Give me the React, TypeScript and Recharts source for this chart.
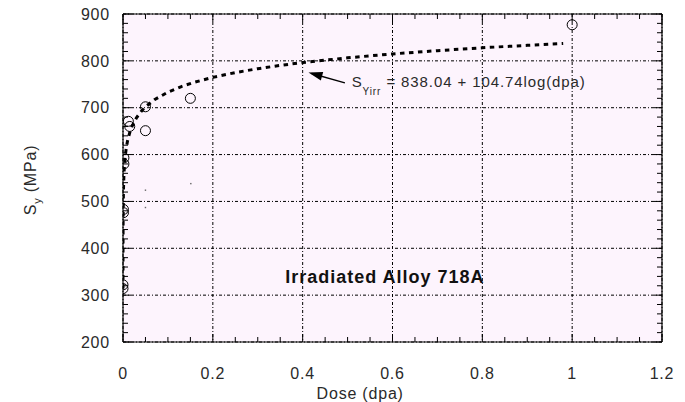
import React from 'react';
import {
  ComposedChart,
  Line,
  Scatter,
  XAxis,
  YAxis,
  CartesianGrid,
  ReferenceLine,
  ReferenceDot,
  Label,
} from 'recharts';

// ---- axis ticks ----
const X_TICKS = [0, 0.05, 0.1, 0.15, 0.2, 0.25, 0.3, 0.35, 0.4, 0.45, 0.5, 0.55, 0.6, 0.65, 0.7, 0.75, 0.8, 0.85, 0.9, 0.95, 1, 1.05, 1.1, 1.15, 1.2];
const X_MAJOR = [0, 0.2, 0.4, 0.6, 0.8, 1, 1.2];
const Y_TICKS = [200, 220, 240, 260, 280, 300, 320, 340, 360, 380, 400, 420, 440, 460, 480, 500, 520, 540, 560, 580, 600, 620, 640, 660, 680, 700, 720, 740, 760, 780, 800, 820, 840, 860, 880, 900];
const Y_MAJOR = [200, 300, 400, 500, 600, 700, 800, 900];

// ---- fit curve S_Yirr = 838.04 + 104.74 log(dpa) ----
const FIT_DOSE = [0.00001, 0.00003, 0.0001, 0.0003, 0.001, 0.002, 0.003, 0.005, 0.0075, 0.01, 0.015, 0.02, 0.03, 0.04, 0.05, 0.07, 0.1, 0.13, 0.16, 0.2, 0.25, 0.3, 0.35, 0.4, 0.5, 0.6, 0.7, 0.8, 0.9, 0.98];
const FIT_SY = [314.3, 364.3, 419.1, 469.0, 523.8, 555.3, 573.8, 597.0, 615.5, 628.6, 647.0, 660.1, 678.5, 691.6, 701.8, 717.1, 733.3, 745.2, 754.7, 764.8, 775.0, 783.3, 790.3, 796.4, 806.5, 814.8, 821.8, 827.9, 833.2, 837.1];

// ---- measured points ----
const MEAS_DOSE = [0, 0, 0.001, 0.001, 0.002, 0.002, 0.012, 0.015, 0.05, 0.05, 0.15, 1.0];
const MEAS_SY = [322, 314, 483, 476, 593, 580, 671, 660, 702, 651, 720, 877];

// ---- small stray specks in the plot ----
const SPECK_DOSE = [0.05, 0.05, 0.151];
const SPECK_SY = [524, 487, 538];

const fitData = FIT_DOSE.map((x, i) => ({ x, y: FIT_SY[i] }));
const measData = MEAS_DOSE.map((x, i) => ({ x, y: MEAS_SY[i] }));
const speckData = SPECK_DOSE.map((x, i) => ({ x, y: SPECK_SY[i] }));

const FONT = '"Liberation Sans", Arial, Helvetica, sans-serif';
const TXT = '#2a2a2a';
const X_GAP = 26;
const Y_GAP = 13;
const MAJ = 8;
const MIN = 5;

const BottomTick = (props: any) => {
  const { x, y, payload } = props;
  const v = payload.value;
  const major = X_MAJOR.includes(v);
  const ay = y - X_GAP;
  return (
    <g>
      <line x1={x} x2={x} y1={ay} y2={ay - (major ? MAJ : MIN)} stroke="#000" strokeWidth={1} />
      {major ? (
        <text x={x} y={y} dy="0.71em" textAnchor="middle" fontFamily={FONT} fontSize={16} letterSpacing={0.8} fill={TXT}>
          {String(v)}
        </text>
      ) : null}
    </g>
  );
};

const TopTick = (props: any) => {
  const { x, y, payload } = props;
  const major = X_MAJOR.includes(payload.value);
  return <line x1={x} x2={x} y1={y} y2={y + (major ? MAJ : MIN)} stroke="#000" strokeWidth={1} />;
};

const LeftTick = (props: any) => {
  const { x, y, payload } = props;
  const v = payload.value;
  const major = Y_MAJOR.includes(v);
  const ax = x + Y_GAP;
  return (
    <g>
      <line x1={ax} x2={ax + (major ? MAJ : MIN)} y1={y} y2={y} stroke="#000" strokeWidth={1} />
      {major ? (
        <text x={x} y={y} dy="0.36em" textAnchor="end" fontFamily={FONT} fontSize={16} letterSpacing={0.8} fill={TXT}>
          {String(v)}
        </text>
      ) : null}
    </g>
  );
};

const RightTick = (props: any) => {
  const { x, y, payload } = props;
  const major = Y_MAJOR.includes(payload.value);
  return <line x1={x} x2={x - (major ? MAJ : MIN)} y1={y} y2={y} stroke="#000" strokeWidth={1} />;
};

const OpenCircle = (props: any) => {
  const { cx, cy } = props;
  if (cx == null || cy == null) return null;
  return <circle cx={cx} cy={cy} r={5} fill="none" stroke="#000" strokeWidth={1} />;
};

const Speck = (props: any) => {
  const { cx, cy } = props;
  if (cx == null || cy == null) return null;
  return <rect x={cx - 0.7} y={cy - 0.7} width={1.4} height={1.4} fill="#666" />;
};

const ArrowHead = (props: any) => {
  const { cx, cy } = props;
  if (cx == null || cy == null) return null;
  return (
    <polygon
      points={`${cx},${cy} ${cx + 14},${cy - 4.5} ${cx + 14},${cy + 4.5}`}
      transform={`rotate(15.2 ${cx} ${cy})`}
      fill="#000"
    />
  );
};

const EquationText = (props: any) => {
  const { cx, cy } = props;
  if (cx == null || cy == null) return null;
  return (
    <text x={cx} y={cy} fontFamily={FONT} fontSize={15} letterSpacing={0.9} fill={TXT}>
      S
      <tspan dy={8} fontSize={10}>Yirr</tspan>
      <tspan dy={-8}>{' = 838.04 + 104.74log(dpa)'}</tspan>
    </text>
  );
};

const TitleText = (props: any) => {
  const { cx, cy } = props;
  if (cx == null || cy == null) return null;
  return (
    <text x={cx} y={cy} textAnchor="start" fontFamily={FONT} fontSize={18} fontWeight="bold" letterSpacing={1} fill="#111">
      Irradiated Alloy 718A
    </text>
  );
};

const XLabel = (props: any) => {
  const vb = props.viewBox || {};
  return (
    <text x={vb.x + vb.width * 0.44} y={vb.y + 57} textAnchor="middle" fontFamily={FONT} fontSize={16} letterSpacing={0.8} fill={TXT}>
      Dose (dpa)
    </text>
  );
};

const YLabel = (props: any) => {
  const vb = props.viewBox || {};
  const cx = vb.x + 30;
  const cy = vb.y + vb.height / 2 + 2;
  return (
    <text x={cx} y={cy} transform={`rotate(-90 ${cx} ${cy})`} textAnchor="middle" dy="0.36em" fontFamily={FONT} fontSize={16} letterSpacing={0.8} fill={TXT}>
      S
      <tspan dy={5} fontSize={11}>y</tspan>
      <tspan dy={-5}>{' (MPa)'}</tspan>
    </text>
  );
};

export default function App() {
  return (
    <div style={{ position: 'absolute', left: 0, top: 0, width: 685, height: 402, background: '#fff' }}>
      <ComposedChart width={685} height={402} margin={{ top: 13, right: 22, bottom: 0, left: 0 }}>
        <CartesianGrid
          verticalValues={X_MAJOR}
          horizontalValues={Y_MAJOR}
          stroke="#000"
          strokeDasharray="3 2 1 2"
          strokeWidth={1}
          fill="#fdf4fd"
          fillOpacity={1}
        />
        <XAxis
          xAxisId={0}
          type="number"
          dataKey="x"
          domain={[0, 1.2]}
          ticks={X_TICKS}
          interval={0}
          allowDataOverflow
          orientation="bottom"
          height={60}
          tickSize={0}
          tickMargin={X_GAP}
          tickLine={false}
          axisLine={{ stroke: '#000', strokeWidth: 1.2 }}
          tick={<BottomTick />}
          label={<Label content={<XLabel />} />}
        />
        <XAxis
          xAxisId="top"
          type="number"
          dataKey="x"
          domain={[0, 1.2]}
          ticks={X_TICKS}
          interval={0}
          allowDataOverflow
          orientation="top"
          height={1}
          tickSize={0}
          tickMargin={0}
          tickLine={false}
          axisLine={{ stroke: '#000', strokeWidth: 1.2 }}
          tick={<TopTick />}
        />
        <YAxis
          yAxisId={0}
          type="number"
          dataKey="y"
          domain={[200, 900]}
          ticks={Y_TICKS}
          interval={0}
          allowDataOverflow
          orientation="left"
          width={123}
          tickSize={0}
          tickMargin={Y_GAP}
          tickLine={false}
          axisLine={{ stroke: '#000', strokeWidth: 1.2 }}
          tick={<LeftTick />}
          label={<Label content={<YLabel />} />}
        />
        <YAxis
          yAxisId="right"
          type="number"
          domain={[200, 900]}
          ticks={Y_TICKS}
          interval={0}
          allowDataOverflow
          orientation="right"
          width={1}
          tickSize={0}
          tickMargin={0}
          tickLine={false}
          axisLine={{ stroke: '#000', strokeWidth: 1.2 }}
          tick={<RightTick />}
        />
        <Line
          data={fitData}
          dataKey="y"
          type="linear"
          stroke="#000"
          strokeWidth={3}
          strokeDasharray="4.5 4.5"
          dot={false}
          activeDot={false}
          isAnimationActive={false}
        />
        <Scatter data={measData} dataKey="y" shape={<OpenCircle />} isAnimationActive={false} />
        <Scatter data={speckData} dataKey="y" shape={<Speck />} isAnimationActive={false} />
        <ReferenceLine
          segment={[{ x: 0.494, y: 753 }, { x: 0.42, y: 773 }]}
          stroke="#000"
          strokeWidth={1.5}
        />
        <ReferenceDot x={0.413} y={775} r={1} shape={<ArrowHead />} />
        <ReferenceDot x={0.509} y={744} r={1} shape={<EquationText />} />
        <ReferenceDot x={0.361} y={326} r={1} shape={<TitleText />} />
      </ComposedChart>
    </div>
  );
}
